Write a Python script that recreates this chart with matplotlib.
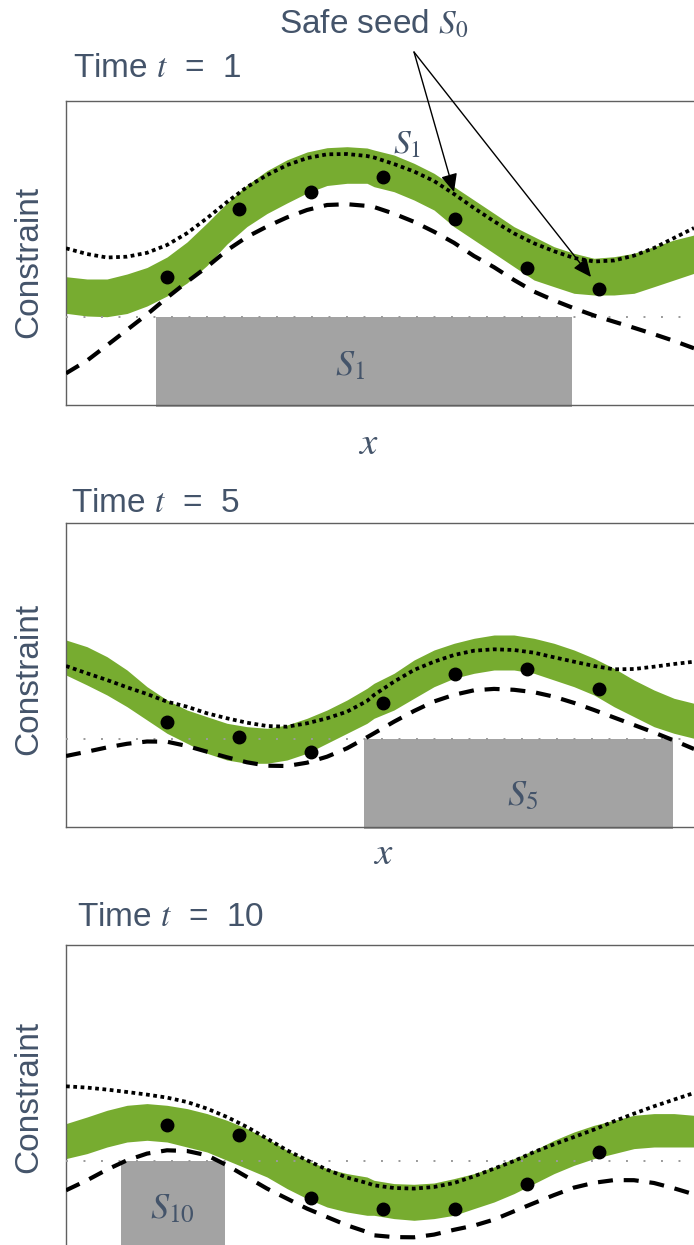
import matplotlib
matplotlib.use('Agg')
import matplotlib.pyplot as plt
from matplotlib.patches import Rectangle

plt.rcParams['mathtext.fontset'] = 'stix'

# x positions along the domain (same grid for every panel)
x_grid = [0, 21, 41, 61, 81, 101, 121, 141, 161, 181, 201, 221, 241, 261, 281, 301,
          308, 328, 348, 368, 388, 408, 428, 448, 468, 488, 508, 528, 548, 568, 588, 608, 628]

# t = 1
ucb_t1 = [156.7, 151, 147.5, 148.3, 152.2, 160, 171.8, 186.8, 203, 218, 229.9, 239.9, 246.9, 250.7, 251, 249,
          247.5, 241, 233.5, 224, 211, 197, 183.7, 171.6, 161.7, 153.8, 147, 143.5, 144.5, 149.4, 157, 167, 177]
lcb_t1 = [31.7, 44.4, 59.7, 75.1, 90.6, 107.3, 123.1, 138.1, 154.7, 168.1, 178.5, 187.6, 195, 200, 200.8, 199.1,
          198, 191.3, 183.2, 173.3, 162.2, 149, 137.8, 125, 113.4, 104.6, 96.7, 89.5, 83.3, 77.2, 70.8, 64.1, 56.7]
band_hi_t1 = [128.3, 126, 126, 131, 137.5, 148, 163, 182, 202, 220, 234.3, 245.2, 253, 257.3, 258.3, 257,
              255, 250, 241.7, 231.7, 218.3, 205, 191.7, 178.3, 168.3, 158.3, 151.7, 146.7, 148.3, 151.7, 158.3, 165, 170]
band_lo_t1 = [91.7, 89, 88.3, 91.5, 99, 109, 122, 139.5, 161, 178.5, 191.5, 202, 212, 219.5, 221.7, 221.7,
              218.3, 213.3, 205, 195, 178.3, 165, 151.7, 138.3, 125, 118.3, 111.7, 110, 110, 111.7, 118.3, 125, 131.7]

# t = 5
ucb_t5 = [160.7, 153.4, 146.7, 139.4, 132.7, 125, 120, 113.4, 108.4, 104, 100.7, 100, 103.4, 108.4, 115, 125.7,
          131.7, 145, 156.7, 165, 171.7, 176, 177.4, 176.7, 174, 169.4, 165, 160.7, 157.4, 157.7, 160, 162.7, 165]
lcb_t5 = [70.7, 75, 79.3, 82.9, 85.2, 85, 80.7, 75, 69.4, 64.4, 61, 60.7, 64, 70, 78.4, 89.4,
          93.4, 105, 115.7, 125.2, 131.9, 136.4, 137.8, 136.9, 134.5, 130, 123.8, 116.7, 109.2, 101.7, 94.2, 86.2, 77.7]
band_hi_t5 = [186.7, 180, 170, 156.7, 140, 126.7, 116.7, 110, 103.4, 100, 98.4, 101.7, 108.4, 116.7, 126.7, 138.4,
              143.4, 153.4, 166.7, 176.7, 183.4, 188.4, 191.7, 191.7, 188.4, 183.4, 176.7, 168.4, 158.4, 146.7, 136.7, 128.4, 123.4]
band_lo_t5 = [151.7, 141.7, 131.7, 120, 106.7, 93.4, 83.4, 73.4, 66.7, 63.4, 63.4, 66.7, 73.4, 83.4, 93.4, 103.4,
              108.4, 116.7, 128.4, 140, 148.4, 153.4, 156.7, 156.7, 153.4, 146.7, 140, 131.7, 120, 110, 100, 93.4, 88.4]

# t = 10
ucb_t10 = [162.7, 161.4, 159.4, 157, 154.4, 151.4, 147, 140.4, 132, 122, 110.4, 98.7, 88.7, 79.4, 71.4, 66,
           63.7, 61, 60.4, 62, 66, 72.7, 80.4, 88, 97, 104.7, 112, 119.4, 127.7, 135.4, 142.7, 149.4, 156]
lcb_t10 = [58.7, 68.7, 79.4, 88.7, 95.4, 98.7, 98, 93.7, 83.7, 72, 60.4, 50.4, 40.4, 32, 23.7, 17,
           13.7, 11.9, 11.7, 14.4, 19.2, 23.4, 29.4, 37.7, 45.9, 53.9, 61.4, 66.2, 68.9, 68.8, 66, 60.7, 54.7]
band_hi_t10 = [125.4, 132, 138.7, 143.7, 145.4, 143.7, 140.4, 135.4, 128.7, 120.4, 110.4, 98.7, 88.7, 80.4, 75.4, 72,
               68.7, 65.4, 64.7, 66, 70.4, 75.4, 82, 90.4, 98.7, 108.7, 117, 123.7, 128.7, 133.7, 135.4, 135.4, 133.7]
band_lo_t10 = [90.4, 95.4, 102, 107, 108.7, 107, 102, 97, 88.7, 80.4, 72, 60.4, 50.4, 42, 37, 33.7,
               33.7, 30.4, 28.7, 30.4, 33.7, 40.4, 47, 55.4, 65.4, 75.4, 83.7, 90.4, 95.4, 100.4, 102, 102, 102]

# evaluated points
dots_x = [101, 173, 245, 317, 389, 461, 533]
dots_t1 = [127.7, 195.7, 213.3, 228.3, 185.7, 136.7, 115.7]
dots_t5 = [104.4, 90, 74.4, 123.4, 152.4, 157.4, 137.7]
dots_t10 = [123.7, 113.7, 51.4, 40.4, 39.7, 65.4, 97]

# safe sets (x start, x end) and safety threshold
safe_t1 = (90, 506)
safe_t5 = (298, 607)
safe_t10 = (55, 159)
threshold = 88

times = ['1', '5', '10']

W, H = 694, 1245
txt_col = '#44546A'
sans = ['Liberation Sans', 'DejaVu Sans']

fig = plt.figure(figsize=(W / 100, H / 100), dpi=100)


def fx(px):
    return px / W


def fy(py):
    return 1 - py / H


def panel(top, bottom, ucb, lcb, hi, lo, dots, safe):
    ax = fig.add_axes([fx(66), fy(bottom), 700 / W, (bottom - top) / H])
    ax.set_xlim(0, 700)
    ax.set_ylim(0, bottom - top)
    ax.set_xticks([])
    ax.set_yticks([])
    for s in ax.spines.values():
        s.set_color('#606060')
        s.set_linewidth(1.0)
    ax.add_patch(Rectangle((safe[0], -2), safe[1] - safe[0], threshold + 2,
                           color='#A3A3A3', lw=0, zorder=1, clip_on=False))
    ax.fill_between(x_grid, lo, hi, color='#77AC30', lw=0, zorder=2)
    ax.axhline(threshold, color='#9a9a9a', lw=1.4, linestyle=(0, (1, 8)), zorder=3)
    ax.plot(x_grid, lcb, color='k', lw=3, linestyle=(0, (3.6, 2.6)), zorder=4)
    ax.plot(x_grid, ucb, color='k', lw=2.7, linestyle=(0, (1, 0.95)), zorder=4)
    ax.plot(dots_x, dots, 'o', color='k', ms=9, zorder=5)
    return ax


ax1 = panel(101, 405, ucb_t1, lcb_t1, band_hi_t1, band_lo_t1, dots_t1, safe_t1)
ax2 = panel(522.7, 826.7, ucb_t5, lcb_t5, band_hi_t5, band_lo_t5, dots_t5, safe_t5)
ax3 = panel(945, 1249, ucb_t10, lcb_t10, band_hi_t10, band_lo_t10, dots_t10, safe_t10)

# titles and labels
title_pos = [(73, 77), (71, 512), (77, 926)]
for (tx, ty), t in zip(title_pos, times):
    fig.text(fx(tx), fy(ty), 'Time $t$  =  ' + t, family=sans, fontsize=24,
             color=txt_col, va='baseline', ha='left')

for cy in [262, 679, 1097]:
    fig.text(fx(29), fy(cy), 'Constraint', family=sans,
             fontsize=24, color=txt_col, rotation=90, va='center', ha='center')

for (lx, ly) in [(368, 443), (383, 853)]:
    fig.text(fx(lx), fy(ly), '$x$', fontsize=28, color=txt_col, va='center', ha='center')

# labels inside safe sets
ax1.text(284, 40, '$S_1$', fontsize=26, color=txt_col, ha='center', va='center', zorder=6)
ax2.text(457, 32, '$S_5$', fontsize=26, color=txt_col, ha='center', va='center', zorder=6)
ax3.text(106, 41, '$S_{10}$', fontsize=26, color=txt_col, ha='center', va='center', zorder=6)
ax1.text(341, 261, '$S_1$', fontsize=24, color=txt_col, ha='center', va='center', zorder=6)

# safe seed annotation
fig.text(fx(279), fy(33), 'Safe seed $S_0$', family=sans, fontsize=24,
         color=txt_col, va='baseline', ha='left')
for tip in [(388, 213), (525, 128)]:
    ax1.annotate('', xy=tip, xycoords='data', xytext=(fx(414), fy(52)),
                 textcoords='figure fraction', annotation_clip=False,
                 arrowprops=dict(arrowstyle='-|>,head_length=0.55,head_width=0.25',
                                 mutation_scale=20, lw=1.0, color='k',
                                 shrinkA=0, shrinkB=0), zorder=7)

fig.savefig('out.png', dpi=100)
